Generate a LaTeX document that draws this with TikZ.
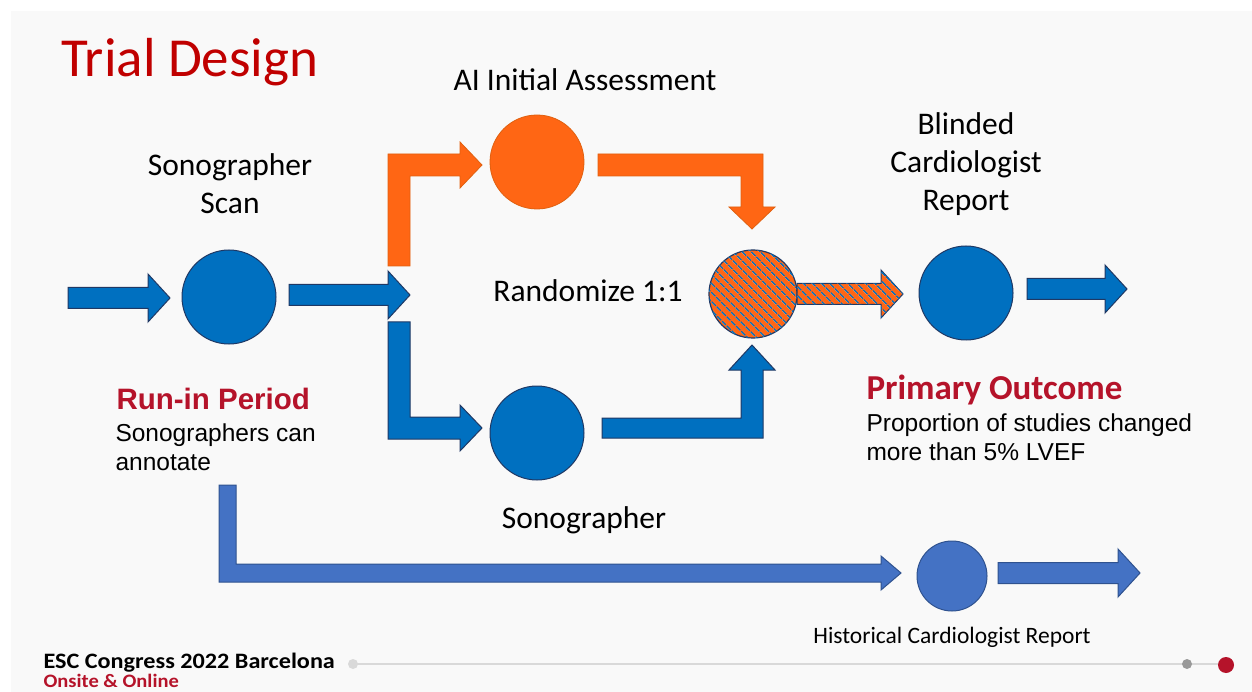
\documentclass[tikz,border=0pt]{standalone}
\usepackage{fontspec}
\setmainfont{Carlito}
\newfontfamily\arialfont{Liberation Sans}
\usetikzlibrary{patterns.meta}

\definecolor{scanblue}{HTML}{0070C0}
\definecolor{edgeblue}{HTML}{1F3864}
\definecolor{histblue}{HTML}{4472C4}
\definecolor{histedge}{HTML}{2F528F}
\definecolor{aiorange}{HTML}{FF6614}
\definecolor{aiedge}{HTML}{E0600F}
\definecolor{titlered}{HTML}{C00000}
\definecolor{escred}{HTML}{B5132A}
\definecolor{slidebg}{HTML}{F9F9F9}

\tikzset{
  blueshape/.style={fill=scanblue, draw=edgeblue, line width=1},
  histshape/.style={fill=histblue, draw=histedge, line width=1},
  orangeshape/.style={fill=aiorange, draw=aiedge, line width=.8},
  hatchshape/.style={fill=aiorange, postaction={pattern={Lines[angle=-45,distance=6.5pt,line width=1.8pt]}, pattern color=scanblue}},
  dot/.style={circle, inner sep=0, minimum size=#1},
  label/.style={font=\fontsize{31.5}{38}\selectfont, align=center, text=black},
}

% straight block arrow: from x1 to tip x2 at height y
\newcommand{\harrow}[4]{%
  \draw[#4] (#1,#3-10.5) -- (#2-22,#3-10.5) -- (#2-22,#3-24) -- (#2,#3)
    -- (#2-22,#3+24) -- (#2-22,#3+10.5) -- (#1,#3+10.5) -- cycle;}

\begin{document}
\begin{tikzpicture}[x=1pt, y=-1pt]

    \useasboundingbox (0,0) rectangle (1252,692);
    \fill[white] (0,0) rectangle (1252,692);
    \fill[slidebg] (11,11) rectangle (1252,692);

    % Title
    \node[anchor=west, text=titlered, font=\fontsize{55}{64}\selectfont] (title) at (58,62) {Trial Design};

    % Circles
    \node[dot=94, blueshape] (scan) at (229,297) {};
    \node[dot=94, orangeshape] (ai) at (537,162) {};
    \node[dot=88, hatchshape, draw=edgeblue, line width=1.2] (rand) at (753,294) {};
    \node[dot=94, blueshape] (sono) at (537,433) {};
    \node[dot=94, blueshape] (blind) at (966,293) {};
    \node[dot=70, histshape] (hist) at (952,576) {};

    % Straight arrows
    \harrow{68}{170}{298}{blueshape}
    \harrow{289}{410}{295}{blueshape}
    \harrow{1027}{1127}{289}{blueshape}
    \harrow{998}{1140}{573}{histshape}
    \harrow{797}{903}{294}{hatchshape, draw=edgeblue, line width=1}

    % Bent arrows
    \draw[orangeshape] (388,266) -- (388,154) -- (460,154) -- (460,142) -- (482,165)
      -- (460,188) -- (460,176) -- (410,176) -- (410,266) -- cycle;
    \draw[orangeshape] (598,154) -- (763,154) -- (763,207) -- (775,207) -- (752,229)
      -- (729,207) -- (741,207) -- (741,176) -- (598,176) -- cycle;
    \draw[blueshape] (388,322) -- (410,322) -- (410,417) -- (460,417) -- (460,405)
      -- (482,428) -- (460,451) -- (460,439) -- (388,439) -- cycle;
    \draw[blueshape] (602,438) -- (763,438) -- (763,370) -- (775,370) -- (752,345)
      -- (729,370) -- (741,370) -- (741,418) -- (602,418) -- cycle;
    \draw[histshape] (219,485) -- (236,485) -- (236,564) -- (881,564) -- (881,556)
      -- (901,573) -- (881,590) -- (881,582) -- (219,582) -- cycle;

    % Labels
    \node[label] (scanlbl) at (230,184) {Sonographer\\Scan};
    \node[label] (ailbl) at (585,80) {AI Initial Assessment};
    \node[label] (randlbl) at (588,291) {Randomize 1:1};
    \node[label] (blindlbl) at (966,164) {Blinded\\Cardiologist\\Report};
    \node[label] (sonolbl) at (584,520) {Sonographer};
    \node[font=\fontsize{23.5}{28}\selectfont] (histlbl) at (952,637) {Historical Cardiologist Report};

    \node[anchor=west, text=escred, font=\arialfont\bfseries\fontsize{29.5}{34}\selectfont] (runin) at (113,399) {Run-in Period};
    \node[anchor=north west, align=left, font=\arialfont\fontsize{24.5}{29}\selectfont] (runtxt) at (112,420) {Sonographers can\\annotate};
    \node[anchor=west, text=escred, font=\bfseries\fontsize{35}{40}\selectfont] (primary) at (863,390) {Primary Outcome};
    \node[anchor=north west, align=left, font=\arialfont\fontsize{24.5}{29}\selectfont] (primtxt) at (863,410) {Proportion of studies changed\\more than 5\% LVEF};

    % Footer
    \draw[gray!30, line width=2] (353,664) -- (1226,664);
    \node[dot=10, fill=gray!30] (dotl) at (353,664) {};
    \node[dot=10, fill=gray!80] (dotm) at (1187,664) {};
    \node[dot=16, fill=escred] (dotr) at (1226,665) {};
    \node[anchor=west, font=\bfseries\fontsize{22}{24}\selectfont] (esc) at (40,663) {\scalebox{1.1}[1]{ESC Congress 2022 Barcelona}};
    \node[anchor=west, text=escred, font=\bfseries\fontsize{19}{21}\selectfont] (onsite) at (40,681) {\scalebox{1.08}[1]{Onsite \& Online}};

  \end{tikzpicture}
\end{document}
